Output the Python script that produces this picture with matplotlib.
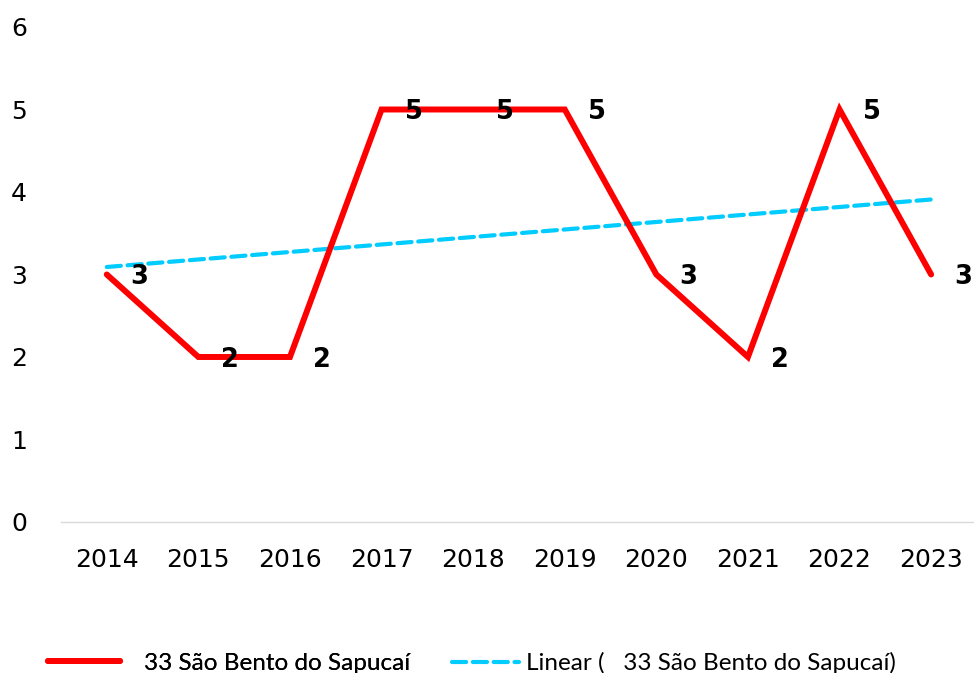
import matplotlib
matplotlib.use("Agg")
import matplotlib.pyplot as plt
import numpy as np

years = ["2014", "2015", "2016", "2017", "2018", "2019", "2020", "2021", "2022", "2023"]
values = [3, 2, 2, 5, 5, 5, 3, 2, 5, 3]
series_name = "33 São Bento do Sapucaí"
trend_name = "Linear (   33 São Bento do Sapucaí)"
yticks = [0, 1, 2, 3, 4, 5, 6]

W, H = 974, 673
fig = plt.figure(figsize=(W / 100, H / 100), dpi=100)
ax = fig.add_axes([0.0626, 0.2244, 0.9404, 0.7355])

x = np.arange(len(years))
h1, = ax.plot(x, values, color="#ff0000", lw=4.3, solid_capstyle="round", solid_joinstyle="miter",
              label=series_name, zorder=3)
coef = np.polyfit(x, values, 1)
trend = np.polyval(coef, x)
h2, = ax.plot(x, trend, color="#00ccff", lw=3, linestyle=(0, (3.4, 1.6)), dash_capstyle="round",
              label=trend_name, zorder=2)

for xi, v in zip(x, values):
    ax.annotate(str(v), (xi, v), xytext=(23, -2), textcoords="offset points",
                ha="center", va="center", fontsize=18.5, fontweight="bold",
                family="DejaVu Sans", color="black")

ax.set_xlim(-0.5, len(years) - 0.5)
ax.set_ylim(0, 6)
ax.set_yticks(yticks)
ax.set_yticklabels([str(t) for t in yticks], fontsize=18, family="DejaVu Sans")
ax.set_xticks(x)
ax.set_xticklabels(years, fontsize=18, family="DejaVu Sans")
ax.tick_params(axis="x", length=0, pad=19)
ax.tick_params(axis="y", length=0, pad=36)
for lab in ax.get_yticklabels():
    lab.set_horizontalalignment("left")

for s in ["top", "right", "left"]:
    ax.spines[s].set_visible(False)
ax.spines["bottom"].set_color("#d9d9d9")
ax.spines["bottom"].set_linewidth(1)

prop = {"family": "Lato", "size": 17.5}
ycen = 1 - 663 / H
leg1 = fig.legend([h1], [series_name], loc="center left", bbox_to_anchor=(48 / W, ycen),
                  frameon=False, prop=prop, handlelength=2.95, handletextpad=1.0,
                  borderpad=0, borderaxespad=0)
leg2 = fig.legend([h2], [trend_name], loc="center left", bbox_to_anchor=(452 / W, ycen),
                  frameon=False, prop=prop, handlelength=2.75, handletextpad=0.3,
                  borderpad=0, borderaxespad=0)
fig.add_artist(leg1)

fig.savefig("out.png", dpi=100)
